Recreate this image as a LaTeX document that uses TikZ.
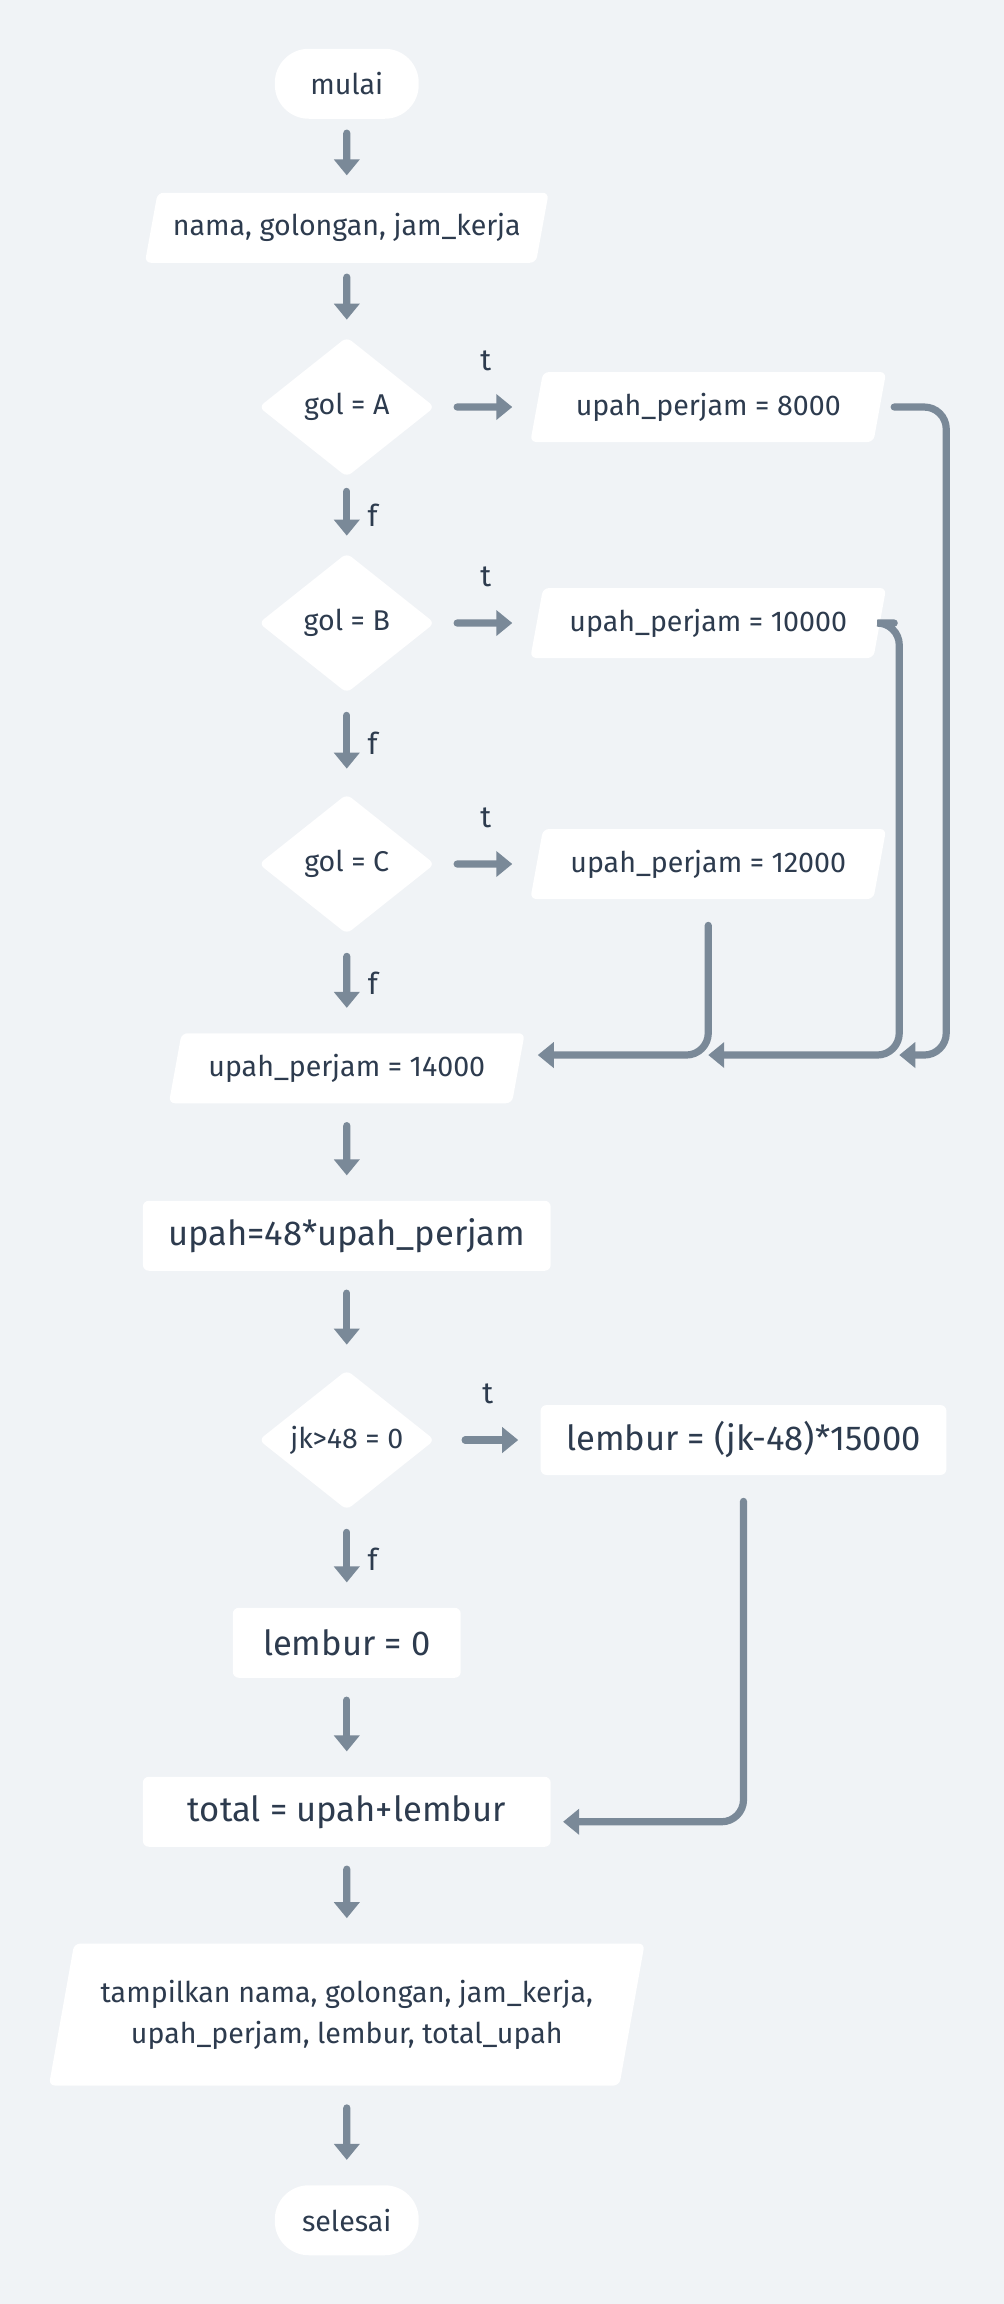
\documentclass[tikz,border=0pt]{standalone}
\usepackage{fontspec}
\setmainfont{Fira Sans}
\usetikzlibrary{arrows.meta, shapes.geometric}
\definecolor{bgcol}{RGB}{240,243,246}
\definecolor{linecol}{RGB}{122,137,152}
\definecolor{txtcol}{RGB}{45,59,78}

\begin{document}
\begin{tikzpicture}[x=0.735pt, y=-0.735pt,
	every node/.style={text=txtcol, font=\fontsize{14.3}{17}\selectfont},
	term/.style={fill=white, rectangle, rounded corners=17pt, minimum width=72pt, minimum height=35pt},
	io/.style={fill=white, trapezium, trapezium left angle=73, trapezium right angle=107, trapezium stretches body, rounded corners=3pt, minimum height=35pt},
	proc/.style={fill=white, rectangle, rounded corners=3pt, minimum height=35pt, font=\fontsize{17.3}{20}\selectfont},
	decision/.style={fill=white, diamond, aspect=1.25, inner sep=0pt, rounded corners=3pt, minimum width=88pt, minimum height=70pt},
	flow/.style={draw=linecol, line width=3.6pt, line cap=round, -{Triangle[length=8pt, width=12.5pt]}, shorten <=11pt, shorten >=12.5pt},
	near/.style={flow, shorten <=7pt, shorten >=8.5pt},
	side/.style={flow, shorten <=11pt, shorten >=12pt},
	merge/.style={draw=linecol, line width=3.6pt, line cap=round, rounded corners=11pt, -{Triangle[length=8pt, width=12.5pt]}},
	lbl/.style={font=\fontsize{15}{18}\selectfont}
	]
	\fill[bgcol] (0,0) rectangle (683,1568);

	\node (mulai) at (236,57) [term] {mulai};
	\node (input) at (236,155) [io, minimum width=202pt] {nama, golongan, jam\_kerja};

	\node (golA) at (236,277) [decision] {gol = A};
	\node (upahA) at (482,277) [io, minimum width=178pt] {upah\_perjam = 8000};
	\node (golB) at (236,424) [decision] {gol = B};
	\node (upahB) at (482,424) [io, minimum width=178pt] {upah\_perjam = 10000};
	\node (golC) at (236,588) [decision] {gol = C};
	\node (upahC) at (482,588) [io, minimum width=178pt] {upah\_perjam = 12000};
	\node (upahD) at (236,727) [io, minimum width=178pt] {upah\_perjam = 14000};

	\node (upah) at (236,841) [proc, minimum width=204pt] {upah=48*upah\_perjam};
	\node (jk) at (236,980) [decision] {jk>48 = 0};
	\node (lembur1) at (506,980) [proc, minimum width=203pt] {lembur = (jk-48)*15000};
	\node (lembur0) at (236,1118) [proc, minimum width=114pt] {lembur = 0};
	\node (total) at (236,1233) [proc, minimum width=204pt] {total = upah+lembur};
	\node (output) at (236,1371) [io, minimum width=298pt, minimum height=71pt, align=center, font=\fontsize{14.3}{20.5}\selectfont] {tampilkan nama, golongan, jam\_kerja,\\ upah\_perjam, lembur, total\_upah};
	\node (selesai) at (236,1511) [term] {selesai};

	\coordinate (j1) at (366,718);
	\coordinate (j2) at (482,718);
	\coordinate (j3) at (612,718);

	\draw[near] (mulai) to (input);
	\draw[near] (input) to (golA);
	\draw[near] (golA) to node[lbl, xshift=13pt] {f} (golB);
	\draw[flow] (golB) to node[lbl, xshift=13pt] {f} (golC);
	\draw[flow] (golC) to node[lbl, xshift=13pt] {f} (upahD);
	\draw[flow] (upahD) to (upah);
	\draw[flow] (upah) to (jk);
	\draw[flow] (jk) to node[lbl, xshift=13pt] {f} (lembur0);
	\draw[flow] (lembur0) to (total);
	\draw[flow] (total) to (output);
	\draw[flow] (output) to (selesai);

	\draw[side] (golA) to node[lbl, yshift=23pt] {t} (upahA);
	\draw[side] (golB) to node[lbl, yshift=23pt] {t} (upahB);
	\draw[side] (golC) to node[lbl, yshift=23pt] {t} (upahC);
	\draw[side, shorten <=15pt, shorten >=11pt] (jk) to node[lbl, yshift=23pt] {t} (lembur1);

	\draw[merge] ([xshift=7pt]upahA.east) -| ([xshift=23.5pt]j3) -- (j3);
	\draw[merge] ([xshift=7pt]upahB.east) -| (j3) -- (j2);
	\draw[merge] ([yshift=-13pt]upahC.south) |- (j1);
	\draw[merge] ([yshift=-13pt]lembur1.south) |- ([xshift=6pt, yshift=-5pt]total.east);
\end{tikzpicture}
\end{document}
